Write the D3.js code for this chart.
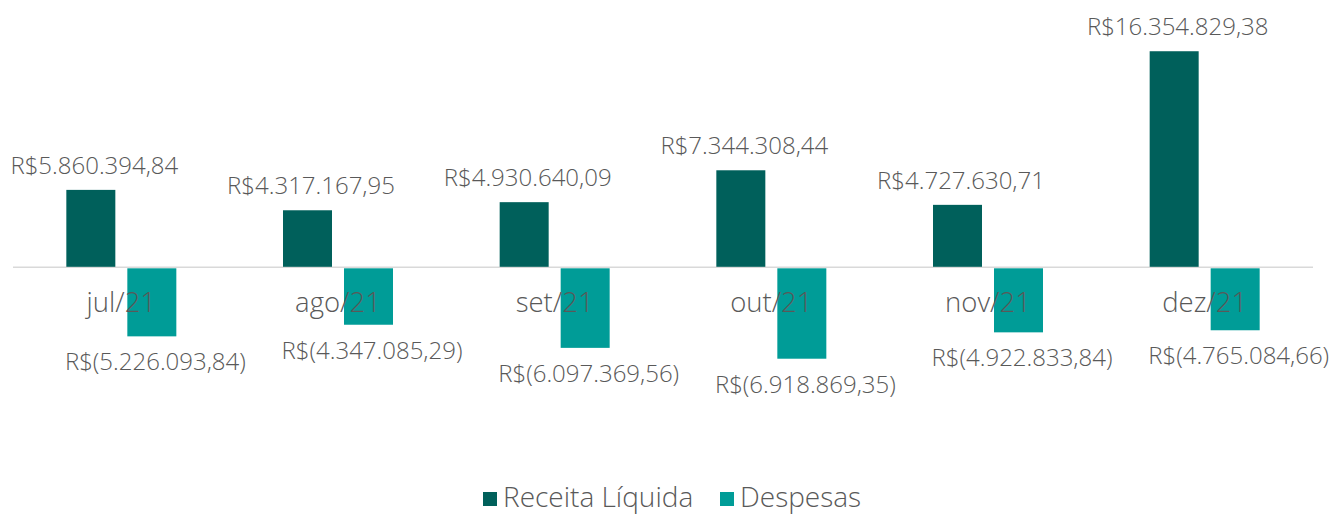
<!DOCTYPE html>
<html><head><meta charset="utf-8">
<script src="https://cdn.jsdelivr.net/npm/d3@7"></script>
<style>body{margin:0;background:#fff;}svg{display:block;}text{font-family:"Open Sans",sans-serif;font-weight:300;fill:#595959;}</style>
</head><body>
<svg id="c" width="1331" height="516"></svg>
<script>
const months = ["jul/21","ago/21","set/21","out/21","nov/21","dez/21"];
const receita = [5860394.84, 4317167.95, 4930640.09, 7344308.44, 4727630.71, 16354829.38];
const despesas = [-5226093.84, -4347085.29, -6097369.56, -6918869.35, -4922833.84, -4765084.66];
const seriesNames = ["Receita Líquida","Despesas"];
const colors = ["#00605B","#009C97"];

const svg = d3.select("#c");
const x0 = d3.scaleBand().domain(months).range([13,1313]);
const bw = x0.bandwidth();
const x1 = d3.scaleBand().domain(seriesNames).range([bw/2-55, bw/2+55]).paddingInner(12/61);
const y = d3.scaleLinear().domain([-8e6,18e6]).range([373,29.5]);

const fmt = v => {
  const s = Math.abs(v).toFixed(2).split(".");
  const int = s[0].replace(/\B(?=(\d{3})+(?!\d))/g,".");
  return v<0 ? "R$(" + int + "," + s[1] + ")" : "R$" + int + "," + s[1];
};

const data = months.map((m,i)=>({m, vals:[receita[i], despesas[i]]}));

svg.append("line").attr("x1",13).attr("x2",1313).attr("y1",y(0)).attr("y2",y(0))
  .attr("stroke","#D9D9D9").attr("stroke-width",1.5);

const g = svg.selectAll("g.cat").data(data).join("g").attr("class","cat")
  .attr("transform",d=>`translate(${x0(d.m)},0)`);

g.selectAll("rect").data(d=>d.vals.map((v,k)=>({v,k}))).join("rect")
  .attr("x",d=>x1(seriesNames[d.k]))
  .attr("width",x1.bandwidth())
  .attr("y",d=>d.v>=0? y(d.v): y(0)+1)
  .attr("height",d=>Math.abs(y(d.v)-y(0))-(d.v>=0?0.5:1))
  .attr("fill",d=>colors[d.k]);

g.append("text").attr("x",bw/2).attr("y",y(0)+45).attr("text-anchor","middle")
  .attr("font-size",27.5).text(d=>d.m);

g.selectAll("text.val").data(d=>d.vals.map((v,k)=>({v,k}))).join("text").attr("class","val")
  .attr("x",d=>x1(seriesNames[d.k])+x1.bandwidth()/2 + 3.5)
  .attr("y",d=>d.v>=0 ? y(d.v)-16 : y(d.v)+34)
  .attr("text-anchor","middle").attr("font-size",24)
  .text(d=>fmt(d.v));

const leg = svg.append("g");
const items = [{n:seriesNames[0],c:colors[0],x:483},{n:seriesNames[1],c:colors[1],x:720}];
items.forEach(it=>{
  leg.append("rect").attr("x",it.x).attr("y",492).attr("width",14).attr("height",14).attr("fill",it.c);
  leg.append("text").attr("x",it.x+20).attr("y",507).attr("font-size",28).text(it.n);
});
</script>
</body></html>
